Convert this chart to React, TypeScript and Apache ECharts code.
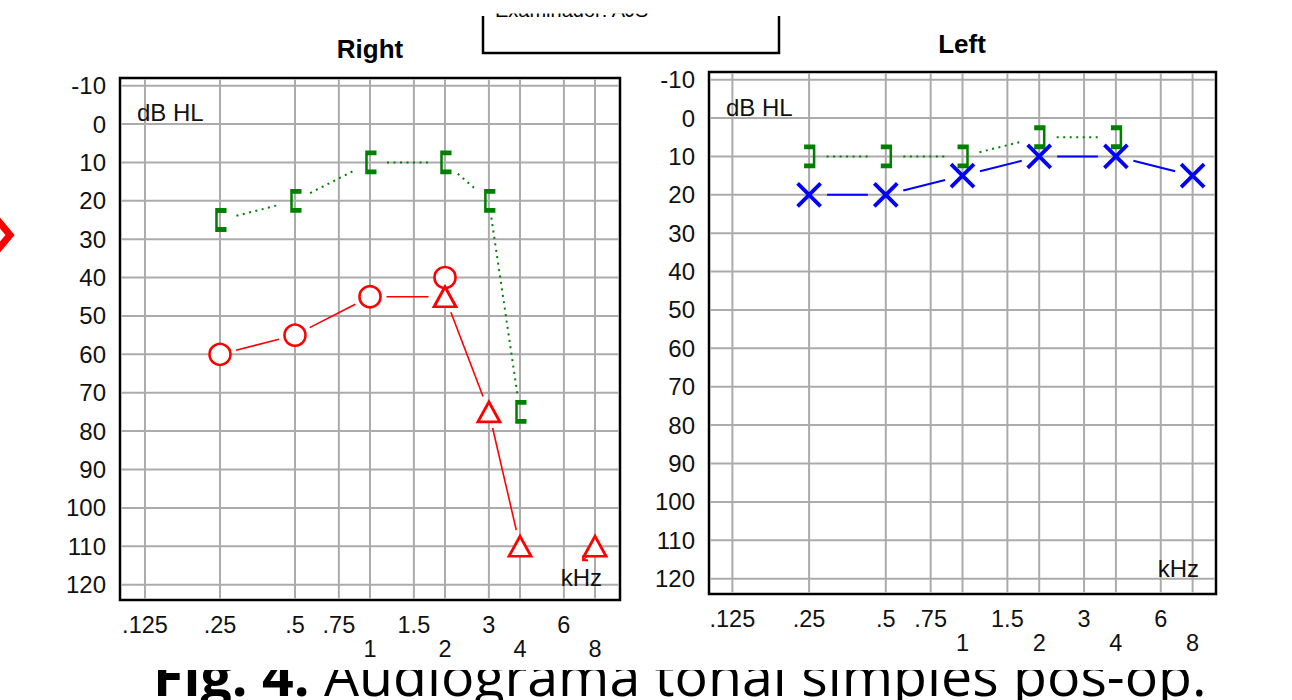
import React, { useEffect, useRef } from 'react';
import * as echarts from 'echarts';

// ---- axis ticks ----
const FREQ_TICKS = [0.125, 0.25, 0.5, 0.75, 1, 1.5, 2, 3, 4, 6, 8];
const FREQ_LABELS = ['.125', '.25', '.5', '.75', '1', '1.5', '2', '3', '4', '6', '8'];
const LOWER_ROW = [1, 2, 4, 8];
const DB_TICKS = [-10, 0, 10, 20, 30, 40, 50, 60, 70, 80, 90, 100, 110, 120];

// ---- Right ear ----
const rightAirFreq = [0.25, 0.5, 1, 2];
const rightAirDb = [60, 55, 45, 40];
const rightMaskedAirFreq = [2, 3, 4, 8];
const rightMaskedAirDb = [45, 75, 110, 110];
const rightMaskedAirNoResponse = [false, false, false, true];
const rightBoneFreq = [0.25, 0.5, 1, 2, 3, 4];
const rightBoneDb = [25, 20, 10, 10, 20, 75];

// ---- Left ear ----
const leftAirFreq = [0.25, 0.5, 1, 2, 4, 8];
const leftAirDb = [20, 20, 15, 10, 10, 15];
const leftBoneFreq = [0.25, 0.5, 1, 2, 4];
const leftBoneDb = [10, 10, 10, 5, 5];

const RED = '#ff0000';
const GREEN = '#008000';
const BLUE = '#0000ff';
const GRIDC = '#ababab';
const FONT = '"Liberation Sans", Arial, sans-serif';

const Y_MIN = -12;
const Y_MAX = 124;

const lg = (f: number) => Math.log2(f);

function points(freqs: number[], dbs: number[]) {
  return freqs.map((f, i) => [lg(f), dbs[i]]);
}

function segments(freqs: number[], dbs: number[]) {
  const out: number[][] = [];
  for (let i = 0; i < freqs.length - 1; i++) {
    out.push([lg(freqs[i]), dbs[i], lg(freqs[i + 1]), dbs[i + 1]]);
  }
  return out;
}

// threshold path: masked value replaces unmasked; no-response points are not joined
function rightAirPath() {
  const all = Array.from(new Set([...rightAirFreq, ...rightMaskedAirFreq])).sort((a, b) => a - b);
  const f: number[] = [];
  const d: number[] = [];
  all.forEach((fr) => {
    const mi = rightMaskedAirFreq.indexOf(fr);
    if (mi >= 0) {
      if (!rightMaskedAirNoResponse[mi]) {
        f.push(fr);
        d.push(rightMaskedAirDb[mi]);
      }
    } else {
      const ui = rightAirFreq.indexOf(fr);
      f.push(fr);
      d.push(rightAirDb[ui]);
    }
  });
  return segments(f, d);
}

function gridLineSeries(idx: number, xr: number) {
  return [
    {
      type: 'custom',
      xAxisIndex: idx,
      yAxisIndex: idx,
      z: 1,
      silent: true,
      data: FREQ_TICKS.map((f) => [lg(f), 0]),
      renderItem: (_p: any, api: any) => {
        const x = api.value(0);
        const a = api.coord([x, Y_MIN]);
        const b = api.coord([x, Y_MAX]);
        return {
          type: 'line',
          shape: { x1: a[0], y1: a[1] + 1.3, x2: b[0], y2: b[1] - 1.3 },
          style: { stroke: GRIDC, lineWidth: 2 },
        };
      },
    },
    {
      type: 'custom',
      xAxisIndex: idx,
      yAxisIndex: idx,
      z: 1,
      silent: true,
      data: DB_TICKS.map((d) => [0, d]),
      renderItem: (_p: any, api: any) => {
        const y = api.value(1);
        const a = api.coord([-xr, y]);
        const b = api.coord([xr, y]);
        return {
          type: 'line',
          shape: { x1: a[0] + 1.3, y1: a[1], x2: b[0] - 1.3, y2: b[1] },
          style: { stroke: GRIDC, lineWidth: 2 },
        };
      },
    },
  ];
}

function segSeries(idx: number, data: number[][], color: string, width: number, dash: number[] | null, gap: number) {
  return {
    type: 'custom',
    xAxisIndex: idx,
    yAxisIndex: idx,
    z: 3,
    silent: true,
    encode: { x: [0, 2], y: [1, 3] },
    data,
    renderItem: (_p: any, api: any) => {
      const a = api.coord([api.value(0), api.value(1)]);
      const b = api.coord([api.value(2), api.value(3)]);
      const dx = b[0] - a[0];
      const dy = b[1] - a[1];
      const L = Math.hypot(dx, dy) || 1;
      const ux = dx / L;
      const uy = dy / L;
      return {
        type: 'line',
        shape: { x1: a[0] + ux * gap, y1: a[1] + uy * gap, x2: b[0] - ux * gap, y2: b[1] - uy * gap },
        style: { stroke: color, lineWidth: width, lineDash: dash || undefined, lineCap: 'butt' },
      };
    },
  };
}

function markerSeries(idx: number, data: number[][], symbol: string, size: any, fill: string, stroke: string, bw: number, offset?: number[]) {
  return {
    type: 'scatter',
    xAxisIndex: idx,
    yAxisIndex: idx,
    z: 4,
    silent: true,
    symbol,
    symbolSize: size,
    symbolOffset: offset || [0, 0],
    itemStyle: { color: fill, borderColor: stroke, borderWidth: bw, opacity: 1 },
    data,
  };
}

function xAxisOpt(idx: number, xr: number) {
  return {
    gridIndex: idx,
    type: 'value',
    z: 10,
    min: -xr,
    max: xr,
    axisLine: { show: false },
    axisTick: { show: false },
    splitLine: { show: false },
    axisLabel: {
      customValues: FREQ_TICKS.map(lg),
      fontSize: 23.5,
      fontFamily: FONT,
      color: '#111',
      margin: 13,
      lineHeight: 24,
      formatter: (v: number) => {
        const i = FREQ_TICKS.findIndex((f) => Math.abs(lg(f) - v) < 1e-6);
        if (i < 0) return '';
        return LOWER_ROW.includes(FREQ_TICKS[i]) ? '\n' + FREQ_LABELS[i] : FREQ_LABELS[i];
      },
    },
  };
}

function yAxisOpt(idx: number) {
  return {
    gridIndex: idx,
    type: 'value',
    inverse: true,
    min: Y_MIN,
    max: Y_MAX,
    axisLine: { show: false },
    axisTick: { show: false },
    splitLine: { show: false },
    axisLabel: {
      customValues: DB_TICKS,
      fontSize: 24,
      fontFamily: FONT,
      color: '#111',
      margin: 14,
      formatter: (v: number) => String(v),
    },
  };
}

const XR_R = 3.333;
const XR_L = 3.305;

const BRACKET_OPEN = 'path://M9,0L0,0L0,19L9,19';
const BRACKET_CLOSE = 'path://M0,0L9,0L9,19L0,19';
const CROSS = 'path://M0,0L20,20M20,0L0,20';

export default function App() {
  const ref = useRef<HTMLDivElement>(null);

  useEffect(() => {
    if (!ref.current) return;
    const chart = echarts.init(ref.current, null, { renderer: 'svg' });

    const noResp = rightMaskedAirFreq
      .map((f, i) => (rightMaskedAirNoResponse[i] ? [lg(f), rightMaskedAirDb[i]] : null))
      .filter(Boolean) as number[][];

    const option: any = {
      animation: false,
      backgroundColor: '#fff',
      grid: [
        { left: 120, top: 78, width: 500, height: 522, show: true, borderColor: '#000', borderWidth: 2.5, backgroundColor: '#fff', containLabel: false },
        { left: 709, top: 72, width: 507, height: 522, show: true, borderColor: '#000', borderWidth: 2.5, backgroundColor: '#fff', containLabel: false },
      ],
      xAxis: [xAxisOpt(0, XR_R), xAxisOpt(1, XR_L)],
      yAxis: [yAxisOpt(0), yAxisOpt(1)],
      series: [
        ...gridLineSeries(0, XR_R),
        ...gridLineSeries(1, XR_L),
        // right ear lines
        segSeries(0, segments(rightBoneFreq, rightBoneDb), GREEN, 2, [2, 4.5], 17),
        segSeries(0, rightAirPath(), RED, 1.6, null, 16.5),
        // left ear lines
        segSeries(1, segments(leftBoneFreq, leftBoneDb), GREEN, 2, [2, 4.5], 17.5),
        segSeries(1, segments(leftAirFreq, leftAirDb), BLUE, 2, null, 18),
        // right ear markers
        markerSeries(0, points(rightBoneFreq, rightBoneDb), BRACKET_OPEN, [10, 19], 'none', GREEN, 3.5, [1.5, 0]),
        markerSeries(0, points(rightAirFreq, rightAirDb), 'circle', 21, '#fff', RED, 2.6),
        markerSeries(0, points(rightMaskedAirFreq, rightMaskedAirDb), 'triangle', [22, 20], '#fff', RED, 2.8),
        {
          type: 'custom',
          xAxisIndex: 0,
          yAxisIndex: 0,
          z: 4,
          silent: true,
          data: noResp,
          renderItem: (_p: any, api: any) => {
            const c = api.coord([api.value(0), api.value(1)]);
            return {
              type: 'group',
              children: [
                {
                  type: 'line',
                  shape: { x1: c[0] - 5, y1: c[1] + 7, x2: c[0] - 12, y2: c[1] + 14 },
                  style: { stroke: RED, lineWidth: 1.6 },
                },
                {
                  type: 'polyline',
                  shape: { points: [[c[0] - 12, c[1] + 9], [c[0] - 12, c[1] + 14], [c[0] - 7, c[1] + 14]] },
                  style: { stroke: RED, lineWidth: 1.8, fill: 'none' },
                },
              ],
            };
          },
        },
        // left ear markers
        markerSeries(1, points(leftBoneFreq, leftBoneDb), BRACKET_CLOSE, [10, 19], 'none', GREEN, 3.5, [0, 0]),
        markerSeries(1, points(leftAirFreq, leftAirDb), CROSS, [23, 23], 'none', BLUE, 3.8),
      ],
      graphic: [
        // caption (partly hidden at the top by the page above it)
        {
          type: 'text',
          z: -10,
          x: 153,
          y: 674,
          style: {
            text: '{b|Fig. 4.} Audiograma tonal simples pós-op.',
            fill: '#000',
            fontSize: 55.5,
            fontFamily: '"Open Sans", sans-serif',
            align: 'left',
            verticalAlign: 'middle',
            rich: {
              b: { fontWeight: 'bold', fontSize: 55.5, fontFamily: '"Open Sans", sans-serif', fill: '#000' },
            },
          },
        },
        { type: 'rect', z: -5, shape: { x: 140, y: 646, width: 1090, height: 24 }, style: { fill: '#fff' } },
        // examiner box at the top
        {
          type: 'text',
          z: -10,
          x: 495,
          y: 10,
          style: { text: 'Examinador: AJS', fill: '#000', fontSize: 20, fontFamily: FONT, align: 'left', verticalAlign: 'middle' },
        },
        { type: 'rect', z: -5, shape: { x: 470, y: 0, width: 330, height: 13.5 }, style: { fill: '#fff' } },
        {
          type: 'polyline',
          z: 5,
          shape: { points: [[483, 16], [483, 53], [779, 53], [779, 16]] },
          style: { stroke: '#000', lineWidth: 2.5, fill: 'none' },
        },
        // red chevron at the left edge
        {
          type: 'polyline',
          z: 5,
          shape: { points: [[-10, 211], [10, 235], [-10, 259]] },
          style: { stroke: RED, lineWidth: 7, fill: 'none', lineJoin: 'miter' },
        },
        // titles
        {
          type: 'text',
          x: 370,
          y: 49,
          style: { text: 'Right', fill: '#000', fontSize: 26, fontWeight: 'bold', fontFamily: FONT, align: 'center', verticalAlign: 'middle' },
        },
        {
          type: 'text',
          x: 962,
          y: 44,
          style: { text: 'Left', fill: '#000', fontSize: 26, fontWeight: 'bold', fontFamily: FONT, align: 'center', verticalAlign: 'middle' },
        },
        // in-plot labels
        {
          type: 'text',
          z: 10,
          x: 137,
          y: 112,
          style: { text: 'dB HL', fill: '#111', fontSize: 24, fontFamily: FONT, align: 'left', verticalAlign: 'middle' },
        },
        {
          type: 'text',
          z: 10,
          x: 726,
          y: 107,
          style: { text: 'dB HL', fill: '#111', fontSize: 24, fontFamily: FONT, align: 'left', verticalAlign: 'middle' },
        },
        {
          type: 'text',
          z: 10,
          x: 602,
          y: 577,
          style: { text: 'kHz', fill: '#111', fontSize: 24, fontFamily: FONT, align: 'right', verticalAlign: 'middle' },
        },
        {
          type: 'text',
          z: 10,
          x: 1199,
          y: 568,
          style: { text: 'kHz', fill: '#111', fontSize: 24, fontFamily: FONT, align: 'right', verticalAlign: 'middle' },
        },
      ],
    };

    chart.setOption(option);
    return () => chart.dispose();
  }, []);

  return <div ref={ref} style={{ position: 'absolute', left: 0, top: 0, width: 1292, height: 700 }} />;
}
